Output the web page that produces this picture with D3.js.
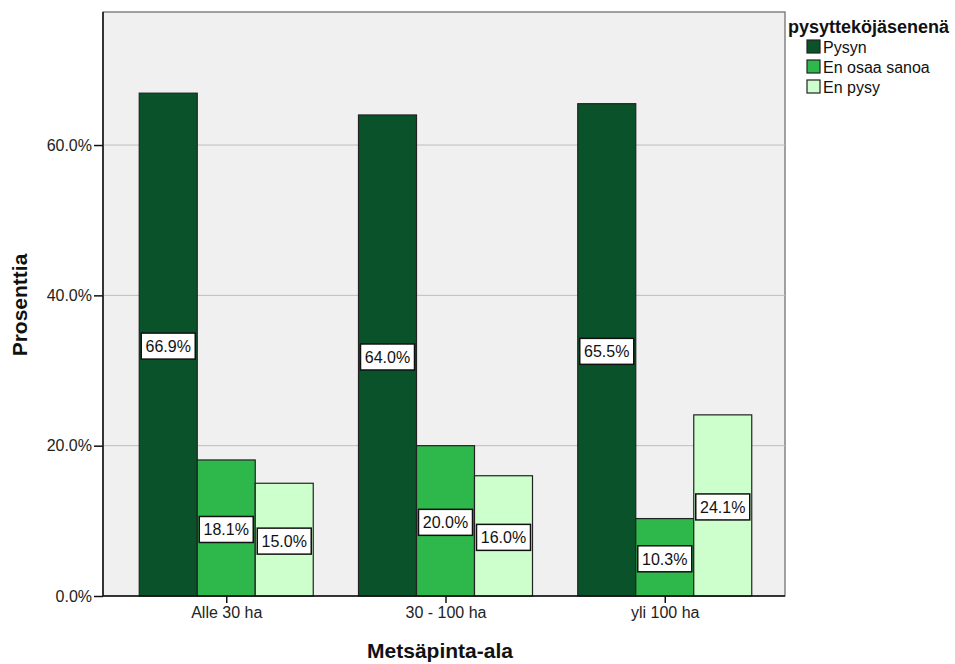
<!DOCTYPE html>
<html><head><meta charset="utf-8">
<script src="https://cdn.jsdelivr.net/npm/d3@7"></script>
<style>body{margin:0;background:#fff;} text{font-family:"Liberation Sans",Arial,sans-serif;}</style>
</head><body>
<svg id="chart" width="955" height="664"></svg>
<script>
const categories = ["Alle 30 ha", "30 - 100 ha", "yli 100 ha"];
const seriesNames = ["Pysyn", "En osaa sanoa", "En pysy"];
const pysyn = [66.9, 64.0, 65.5];
const enOsaa = [18.1, 20.0, 10.3];
const enPysy = [15.0, 16.0, 24.1];
const yTicks = [0, 20, 40, 60];
const colors = ["#0a5229", "#2eb84b", "#ccffcc"];
const legendTitle = "pysyttekojäsenenä".replace("ko","kö");
const xTitle = "Metsäpinta-ala";
const yTitle = "Prosenttia";

const series = [pysyn, enOsaa, enPysy];
const svg = d3.select("#chart");
const L = 103, R = 785, T = 12, B = 596;

const y = d3.scaleLinear().domain([0, 77.7]).range([B, T]);
const x = d3.scalePoint().domain(categories).range([L + 2, R + 1]).padding(0.553);
const xs = d3.scaleBand().domain(seriesNames).range([-87, 87]);

// plot background
svg.append("rect").attr("x", L).attr("y", T).attr("width", R - L).attr("height", B - T)
  .attr("fill", "#f0f0f0").attr("stroke", "#666").attr("stroke-width", 1.2);

// gridlines
svg.append("g").selectAll("line").data(yTicks.filter(d => d > 0)).join("line")
  .attr("x1", L).attr("x2", R).attr("y1", d => y(d)).attr("y2", d => y(d))
  .attr("stroke", "#bdbdbd").attr("stroke-width", 1);

// bars
const groups = svg.append("g").selectAll("g").data(categories).join("g")
  .attr("transform", d => `translate(${x(d)},0)`);
groups.selectAll("rect").data((c, i) => seriesNames.map((s, j) => ({s, j, v: series[j][i]}))).join("rect")
  .attr("x", d => xs(d.s)).attr("width", xs.bandwidth())
  .attr("y", d => y(d.v)).attr("height", d => y(0) - y(d.v))
  .attr("fill", d => colors[d.j]).attr("stroke", "#222").attr("stroke-width", 1.2);

// labels
const lab = groups.selectAll("g.lab").data((c, i) => seriesNames.map((s, j) => ({s, j, v: series[j][i]}))).join("g")
  .attr("class", "lab")
  .attr("transform", d => `translate(${xs(d.s) + xs.bandwidth() / 2},${(y(d.v) + y(0)) / 2 + 1.5})`);
lab.append("rect").attr("x", -27).attr("y", -13).attr("width", 54).attr("height", 26)
  .attr("fill", "#fff").attr("stroke", "#111").attr("stroke-width", 1.5);
lab.append("text").attr("text-anchor", "middle").attr("dy", "0.36em")
  .attr("font-size", 16).attr("fill", "#111").text(d => d.v.toFixed(1) + "%");

// axes
const yAxis = d3.axisLeft(y).tickValues(yTicks).tickSize(9).tickPadding(2).tickFormat(d => d.toFixed(1) + "%");
const gy = svg.append("g").attr("transform", `translate(${L},0)`).call(yAxis);
const xAxis = d3.axisBottom(x).tickSize(7).tickPadding(4);
const gx = svg.append("g").attr("transform", `translate(0,${B})`).call(xAxis);
[gy, gx].forEach(g => {
  g.select(".domain").attr("stroke", "#111").attr("stroke-width", 1.5);
  g.selectAll(".tick line").attr("stroke", "#111").attr("stroke-width", 1.5);
  g.selectAll(".tick text").attr("font-size", 16).attr("fill", "#222")
    .attr("font-family", "Liberation Sans, Arial, sans-serif");
});
gy.select(".domain").attr("d", `M0,${T}V${B}`);
gx.select(".domain").attr("d", `M${L},0H${R}`);

// titles
svg.append("text").attr("x", 440).attr("y", 658).attr("text-anchor", "middle")
  .attr("font-family", "DejaVu Sans").attr("font-weight", "bold").attr("font-size", 21)
  .attr("fill", "#111").text(xTitle);
svg.append("text").attr("transform", `translate(27,${305}) rotate(-90)`).attr("text-anchor", "middle")
  .attr("font-family", "DejaVu Sans").attr("font-weight", "bold").attr("font-size", 21)
  .attr("fill", "#111").text(yTitle);

// legend
const lg = svg.append("g");
lg.append("text").attr("x", 788).attr("y", 33).attr("font-weight", "bold").attr("font-size", 18)
  .attr("fill", "#111").text(legendTitle);
const li = lg.selectAll("g.li").data(seriesNames).join("g").attr("class", "li")
  .attr("transform", (d, i) => `translate(807,${47 + i * 20})`);
li.append("rect").attr("x", 0).attr("y", -7).attr("width", 13).attr("height", 13)
  .attr("fill", (d, i) => colors[i]).attr("stroke", "#222").attr("stroke-width", 1.2);
li.append("text").attr("x", 16).attr("dy", "0.36em").attr("font-size", 16).attr("fill", "#111").text(d => d);
</script>
</body></html>
